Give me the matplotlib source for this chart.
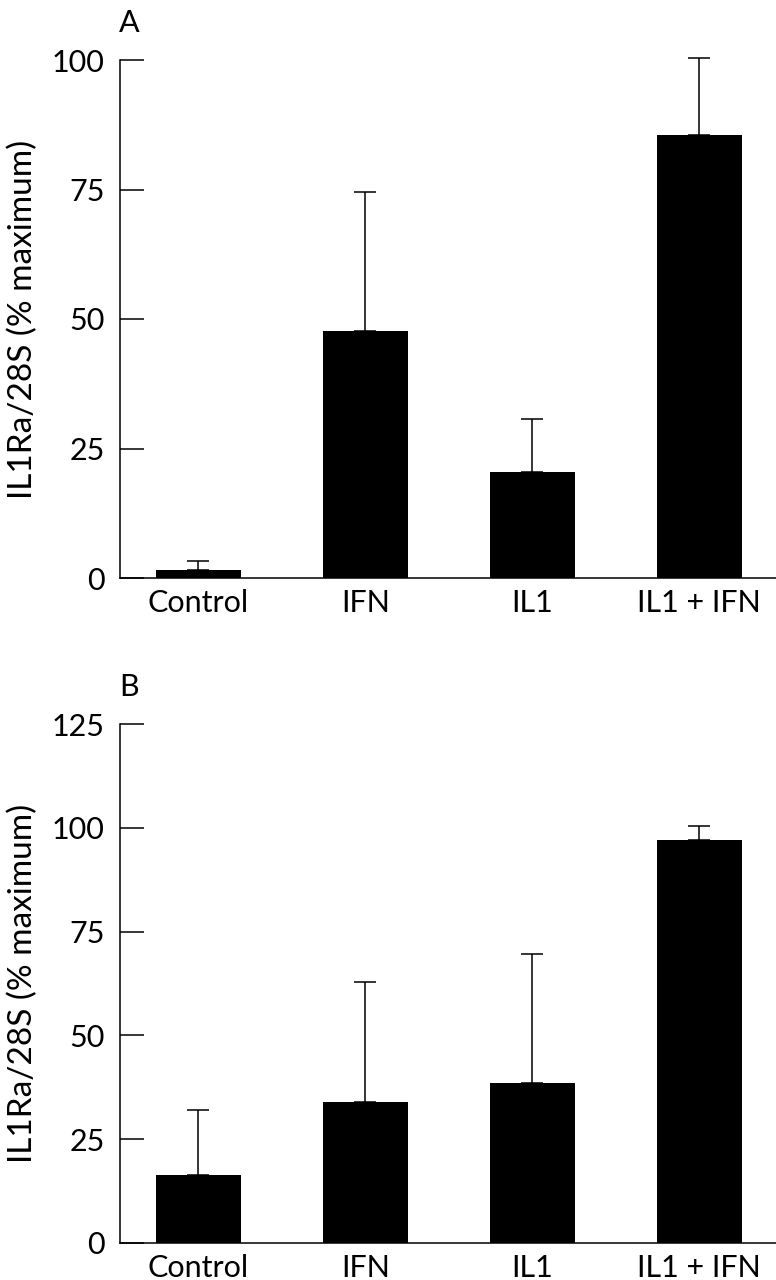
import numpy as np
import matplotlib
matplotlib.use("Agg")
import matplotlib.pyplot as plt

plt.rcParams['font.family'] = ['Lato', 'DejaVu Sans']

# data
groups = ["Control", "IFN", "IL1", "IL1 + IFN"]
mean_a = [1.5, 47.6, 20.5, 85.5]
err_a = [1.8, 27.0, 10.1, 14.8]
mean_b = [16.4, 34.0, 38.6, 97.1]
err_b = [15.6, 28.8, 31.1, 3.4]
ticks_a = [0, 25, 50, 75, 100]
ticks_b = [0, 25, 50, 75, 100, 125]

W, H = 776, 1280
fig = plt.figure(figsize=(W / 100, H / 100), dpi=100)

def panel(rect, means, errs, yticks, letter):
    ax = fig.add_axes(rect)
    x = np.arange(len(groups))
    ax.bar(x, means, width=0.51, color="black", zorder=2)
    ax.errorbar(x, means, yerr=[np.zeros(len(errs)), errs], fmt="none",
                ecolor="black", elinewidth=1.1, capsize=8, capthick=1.1,
                zorder=1, clip_on=False)
    ax.set_xlim(-0.47, 3.46)
    ax.set_ylim(0, yticks[-1])
    ax.set_yticks(yticks)
    ax.set_xticks(x)
    ax.set_xticklabels(groups)
    ax.spines["top"].set_visible(False)
    ax.spines["right"].set_visible(False)
    ax.spines["left"].set_linewidth(1.1)
    ax.spines["bottom"].set_linewidth(1.1)
    ax.tick_params(axis="y", direction="in", length=17, width=1.1,
                   labelsize=22, pad=11)
    ax.tick_params(axis="x", length=0, labelsize=22, pad=8)
    ax.set_ylabel("IL1Ra/28S (% maximum)", fontsize=24)
    ax.yaxis.set_label_coords(-0.125, 0.5)
    ax.text(0.014, 1.045, letter, transform=ax.transAxes, fontsize=22,
            ha="center", va="bottom")
    return ax

def rect(x0, top, x1, bottom):
    return [x0 / W, 1 - bottom / H, (x1 - x0) / W, (bottom - top) / H]

panel(rect(120, 60, 776, 578), mean_a, err_a, ticks_a, "A")
panel(rect(120, 724, 776, 1243), mean_b, err_b, ticks_b, "B")

fig.savefig("out.png", dpi=100)
